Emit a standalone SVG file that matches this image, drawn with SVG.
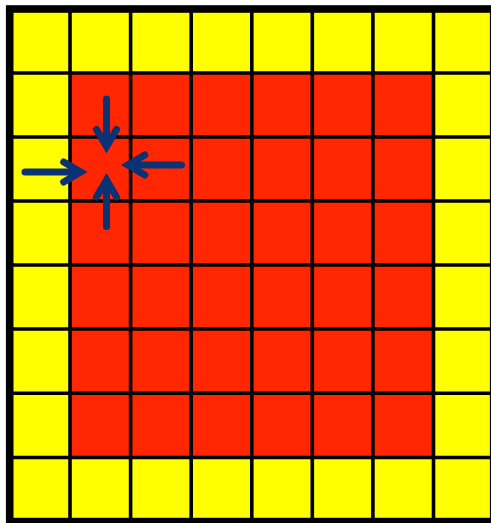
<svg xmlns="http://www.w3.org/2000/svg" width="491" height="523" viewBox="0 0 491 523">
<style>
.y{fill:#FFFF00}
.r{fill:#FF2600}
.g{stroke:#000;stroke-width:3.6;fill:none}
.b{stroke:#000;stroke-width:7.6;fill:none}
.a{stroke:#0B3275;stroke-width:7;fill:none;stroke-linecap:round;stroke-linejoin:miter;stroke-miterlimit:10}
</style>
<rect width="491" height="523" fill="#fff"/>
<g id="board">
<rect class="y" x="9.7" y="9" width="484" height="512.6"/>
<rect class="r" x="70" y="73" width="363.5" height="384.5"/>
</g>
<g id="grid">
<path class="g" d="M70 9V522M130.6 9V522M191.2 9V522M251.8 9V522M312.3 9V522M372.9 9V522M433.5 9V522"/>
<path class="g" d="M9.7 73H494M9.7 137H494M9.7 201H494M9.7 265H494M9.7 329H494M9.7 393.3H494M9.7 457.5H494"/>
<rect class="b" x="9.7" y="9" width="484" height="512.6"/>
</g>
<g id="connectors">
<g id="arrow-down"><path class="a" d="M106.5 99V145"/><path class="a" d="M96.5 129.5L106.5 146.5L116.5 129.5"/></g>
<g id="arrow-right"><path class="a" d="M25 172H79"/><path class="a" d="M63.7 162L80.7 172L63.7 182"/></g>
<g id="arrow-left"><path class="a" d="M181.5 165H129"/><path class="a" d="M144.8 155L127.8 165L144.8 175"/></g>
<g id="arrow-up"><path class="a" d="M106.5 226.5V181.5"/><path class="a" d="M96.5 197L106.5 180L116.5 197"/></g>
</g>
</svg>
